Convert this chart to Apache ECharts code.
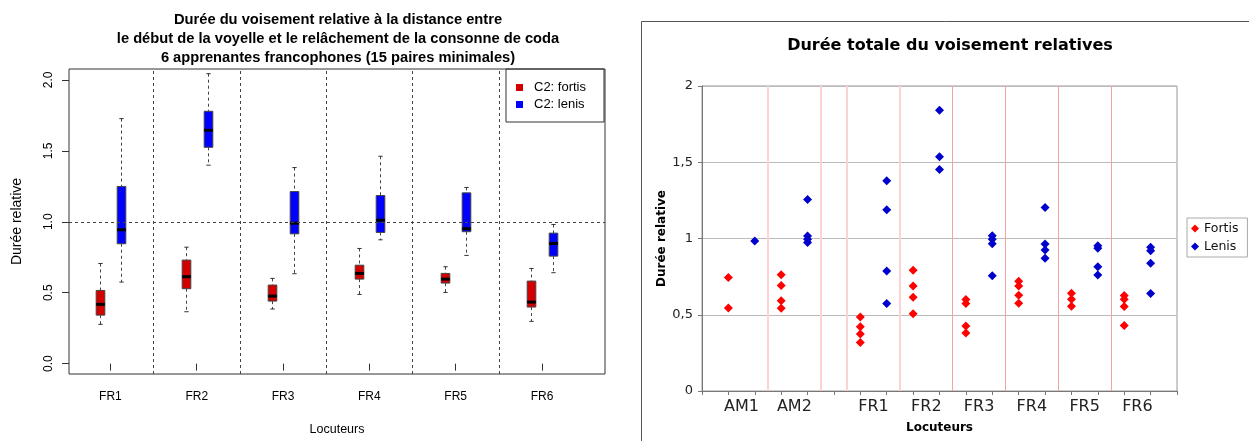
<!DOCTYPE html>
<html>
<head>
<meta charset="utf-8">
<script src="https://cdn.jsdelivr.net/npm/echarts@6/dist/echarts.min.js"></script>
<style>
  html, body { margin: 0; padding: 0; background: #fff; }
  #main { width: 1249px; height: 441px; }
</style>
</head>
<body>
<div id="main"></div>
<script>
"use strict";
// left panel: boxplots per learner, [low, q1, median, q3, high]
const speakersL = ['FR1', 'FR2', 'FR3', 'FR4', 'FR5', 'FR6'];
const fortisBox = [
  [0.277, 0.342, 0.418, 0.516, 0.706],
  [0.366, 0.528, 0.613, 0.730, 0.821],
  [0.385, 0.441, 0.476, 0.554, 0.601],
  [0.488, 0.596, 0.636, 0.694, 0.812],
  [0.502, 0.568, 0.596, 0.636, 0.683],
  [0.298, 0.399, 0.434, 0.582, 0.671]
];
const lenisBox = [
  [0.575, 0.845, 0.944, 1.249, 1.727],
  [1.399, 1.525, 1.645, 1.779, 2.044],
  [0.634, 0.915, 0.990, 1.213, 1.382],
  [0.873, 0.925, 1.011, 1.185, 1.462],
  [0.763, 0.930, 0.951, 1.204, 1.242],
  [0.641, 0.758, 0.847, 0.920, 0.981]
];
const ticksL = [0, 0.5, 1, 1.5, 2];

// right panel: individual points per speaker
const speakersR = ['AM1', 'AM2', 'FR1', 'FR2', 'FR3', 'FR4', 'FR5', 'FR6'];
const fortisPts = [
  [0.744, 0.545],
  [0.763, 0.691, 0.591, 0.543],
  [0.486, 0.421, 0.373, 0.318],
  [0.792, 0.689, 0.615, 0.506],
  [0.600, 0.573, 0.427, 0.380],
  [0.720, 0.689, 0.628, 0.576],
  [0.641, 0.602, 0.556],
  [0.626, 0.602, 0.554, 0.429]
];
const lenisPts = [
  [0.984],
  [1.256, 1.016, 0.995, 0.973],
  [1.378, 1.189, 0.787, 0.573],
  [1.841, 1.536, 1.453],
  [1.018, 0.995, 0.966, 0.755],
  [1.204, 0.964, 0.925, 0.870],
  [0.953, 0.936, 0.815, 0.761],
  [0.942, 0.920, 0.838, 0.639]
];

let myChart = echarts.init(document.getElementById('main'));

// --- left: boxes drawn with a custom series
const OFF = 0.125;
const boxRows = (arr, shift) => arr.map((b, i) => [i + 1 + shift].concat(b));

function renderBox(params, api) {
  const x = api.value(0);
  const lo = api.coord([x, api.value(1)]);
  const q1 = api.coord([x, api.value(2)]);
  const md = api.coord([x, api.value(3)]);
  const q3 = api.coord([x, api.value(4)]);
  const hi = api.coord([x, api.value(5)]);
  const w = api.size([0.1, 0])[0];
  const cx = Math.round(lo[0]) + 0.5;
  const cap = w * 0.25;
  const dash = { stroke: '#444', lineWidth: 1, lineDash: [3, 3] };
  const solid = { stroke: '#333', lineWidth: 1 };
  return {
    type: 'group',
    children: [
      { type: 'line', shape: { x1: cx, y1: hi[1], x2: cx, y2: q3[1] }, style: dash },
      { type: 'line', shape: { x1: cx, y1: q1[1], x2: cx, y2: lo[1] }, style: dash },
      { type: 'line', shape: { x1: cx - cap, y1: hi[1], x2: cx + cap, y2: hi[1] }, style: solid },
      { type: 'line', shape: { x1: cx - cap, y1: lo[1], x2: cx + cap, y2: lo[1] }, style: solid },
      { type: 'rect', shape: { x: cx - w / 2, y: q3[1], width: w, height: q1[1] - q3[1] },
        style: { fill: api.visual('color'), stroke: '#444', lineWidth: 1 } },
      { type: 'line', shape: { x1: cx - w / 2, y1: md[1], x2: cx + w / 2, y2: md[1] },
        style: { stroke: '#000', lineWidth: 3 } }
    ]
  };
}

// --- right: x slots, AM speakers first then a gap before the FR group
const slotOf = i => 2 * i + 1 + (i >= 2 ? 1 : 0);
const pts = (arr, shift) => {
  const out = [];
  arr.forEach((vals, i) => vals.forEach(v => out.push([slotOf(i) + shift, v])));
  return out;
};
const labelPos = speakersR.map((s, i) => slotOf(i) + 0.5);
const sepR = [5.5].concat(speakersR.slice(0, -1).map((s, i) => slotOf(i) + 1.5)).sort((a, b) => a - b);

const fontL = 'Liberation Sans';
const fontR = 'DejaVu Sans';

let option = {
  animation: false,
  title: [{
    text: 'Durée du voisement relative à la distance entre\nle début de la voyelle et le relâchement de la consonne de coda\n6 apprenantes francophones (15 paires minimales)',
    left: 338, top: 10, padding: 0, textAlign: 'center',
    textStyle: { fontFamily: fontL, fontSize: 14.7, fontWeight: 'bold', color: '#000', lineHeight: 19 }
  }, {
    text: 'Durée totale du voisement relatives',
    left: 950, top: 38, padding: 0, textAlign: 'center',
    textStyle: { fontFamily: fontR, fontSize: 16, fontWeight: 'bold', color: '#000' }
  }],
  legend: [{
    data: ['C2: fortis', 'C2: lenis'],
    orient: 'vertical', left: 506, top: 69,
    padding: [12, 18, 11, 10], itemGap: 4,
    itemWidth: 7, itemHeight: 7,
    icon: 'rect',
    borderColor: '#333', borderWidth: 1, borderRadius: 0,
    textStyle: { fontFamily: fontL, fontSize: 13, color: '#000', padding: [0, 0, 0, 6] }
  }, {
    data: ['Fortis', 'Lenis'],
    orient: 'vertical', left: 1187, top: 218,
    padding: [4, 9, 4, 4], itemGap: 5,
    itemWidth: 8, itemHeight: 8, icon: 'diamond',
    borderColor: '#aaa', borderWidth: 1, borderRadius: 0,
    textStyle: { fontFamily: fontR, fontSize: 12.5, color: '#111' }
  }],
  grid: [
    { left: 69, top: 69, width: 536, height: 306, show: true, borderColor: '#333', borderWidth: 1 },
    { left: 702, top: 86, width: 475, height: 305, show: true, borderColor: '#999', borderWidth: 1 }
  ],
  xAxis: [{
    gridIndex: 0, type: 'value', min: 0.52, max: 6.73,
    axisLine: { show: false },
    axisTick: { show: true, customValues: [1, 2, 3, 4, 5, 6], length: 7, lineStyle: { color: '#333' } },
    axisLabel: { customValues: [1, 2, 3, 4, 5, 6], formatter: v => speakersL[Math.round(v) - 1],
      fontFamily: fontL, fontSize: 12, color: '#000', margin: 17 },
    splitLine: { show: false },
    name: 'Locuteurs', nameLocation: 'middle', nameGap: 49,
    nameTextStyle: { fontFamily: fontL, fontSize: 12.5, color: '#000' }
  }, {
    gridIndex: 1, type: 'value', min: 0, max: 18, interval: 1,
    axisLine: { show: true, lineStyle: { color: '#777' } },
    axisTick: { show: true, length: 4, lineStyle: { color: '#777' } },
    axisLabel: { customValues: labelPos,
      formatter: v => speakersR[labelPos.indexOf(v)],
      fontFamily: fontR, fontSize: 16, color: '#222', margin: 8 },
    splitLine: { show: false },
    name: 'Locuteurs', nameLocation: 'middle', nameGap: 31,
    nameTextStyle: { fontFamily: fontR, fontSize: 12, fontWeight: 'bold', color: '#000' }
  }],
  yAxis: [{
    gridIndex: 0, type: 'value', min: -0.073, max: 2.077,
    axisLine: { show: false },
    axisTick: { show: true, customValues: ticksL, length: 7, lineStyle: { color: '#333' } },
    axisLabel: { customValues: ticksL, formatter: v => v.toFixed(1), rotate: 90,
      fontFamily: fontL, fontSize: 12, color: '#000', margin: 14 },
    splitLine: { show: false },
    name: 'Durée relative', nameLocation: 'middle', nameGap: 45,
    nameTextStyle: { fontFamily: fontL, fontSize: 14, color: '#000' }
  }, {
    gridIndex: 1, type: 'value', min: 0, max: 2, interval: 0.5,
    axisLine: { show: true, lineStyle: { color: '#777' } },
    axisTick: { show: true, length: 4, lineStyle: { color: '#777' } },
    axisLabel: { formatter: v => String(v).replace('.', ','),
      fontFamily: fontR, fontSize: 13, color: '#222', margin: 9 },
    splitLine: { show: true, lineStyle: { color: '#bbb', width: 1 } },
    name: 'Durée relative', nameLocation: 'middle', nameGap: 34,
    nameTextStyle: { fontFamily: fontR, fontSize: 12, fontWeight: 'bold', color: '#000' }
  }],
  series: [{
    type: 'line', xAxisIndex: 0, yAxisIndex: 0, data: [], silent: true,
    markLine: {
      silent: true, symbol: 'none', label: { show: false },
      lineStyle: { color: '#444', type: [3, 3], width: 1 },
      data: [{ yAxis: 1 }].concat(speakersL.slice(1).map((s, i) => ({ xAxis: i + 1.5 })))
    }
  }, {
    name: 'C2: fortis', type: 'custom', xAxisIndex: 0, yAxisIndex: 0,
    itemStyle: { color: '#d40000' },
    renderItem: renderBox, encode: { x: 0, y: [1, 2, 3, 4, 5] },
    data: boxRows(fortisBox, -OFF)
  }, {
    name: 'C2: lenis', type: 'custom', xAxisIndex: 0, yAxisIndex: 0,
    itemStyle: { color: '#0000ff' },
    renderItem: renderBox, encode: { x: 0, y: [1, 2, 3, 4, 5] },
    data: boxRows(lenisBox, OFF)
  }, {
    type: 'line', xAxisIndex: 1, yAxisIndex: 1, data: [], silent: true,
    markLine: {
      silent: true, symbol: 'none', label: { show: false },
      data: sepR.map((x, i) => ({
        xAxis: x,
        lineStyle: i < 4 ? { color: '#ffd2d2', width: 2, type: 'solid' } : { color: '#f4a4a4', width: 1, type: 'solid' }
      }))
    }
  }, {
    name: 'Fortis', type: 'scatter', xAxisIndex: 1, yAxisIndex: 1,
    symbol: 'diamond', symbolSize: 9, itemStyle: { color: '#ff0000', opacity: 1 },
    data: pts(fortisPts, 0)
  }, {
    name: 'Lenis', type: 'scatter', xAxisIndex: 1, yAxisIndex: 1,
    symbol: 'diamond', symbolSize: 9, itemStyle: { color: '#0000cc', opacity: 1 },
    data: pts(lenisPts, 1)
  }],
  graphic: [{
    type: 'rect', silent: true,
    shape: { x: 641.5, y: 21.5, width: 640, height: 440 },
    style: { fill: 'none', stroke: '#555', lineWidth: 1 }
  }]
};
myChart.setOption(option);
</script>
</body>
</html>
